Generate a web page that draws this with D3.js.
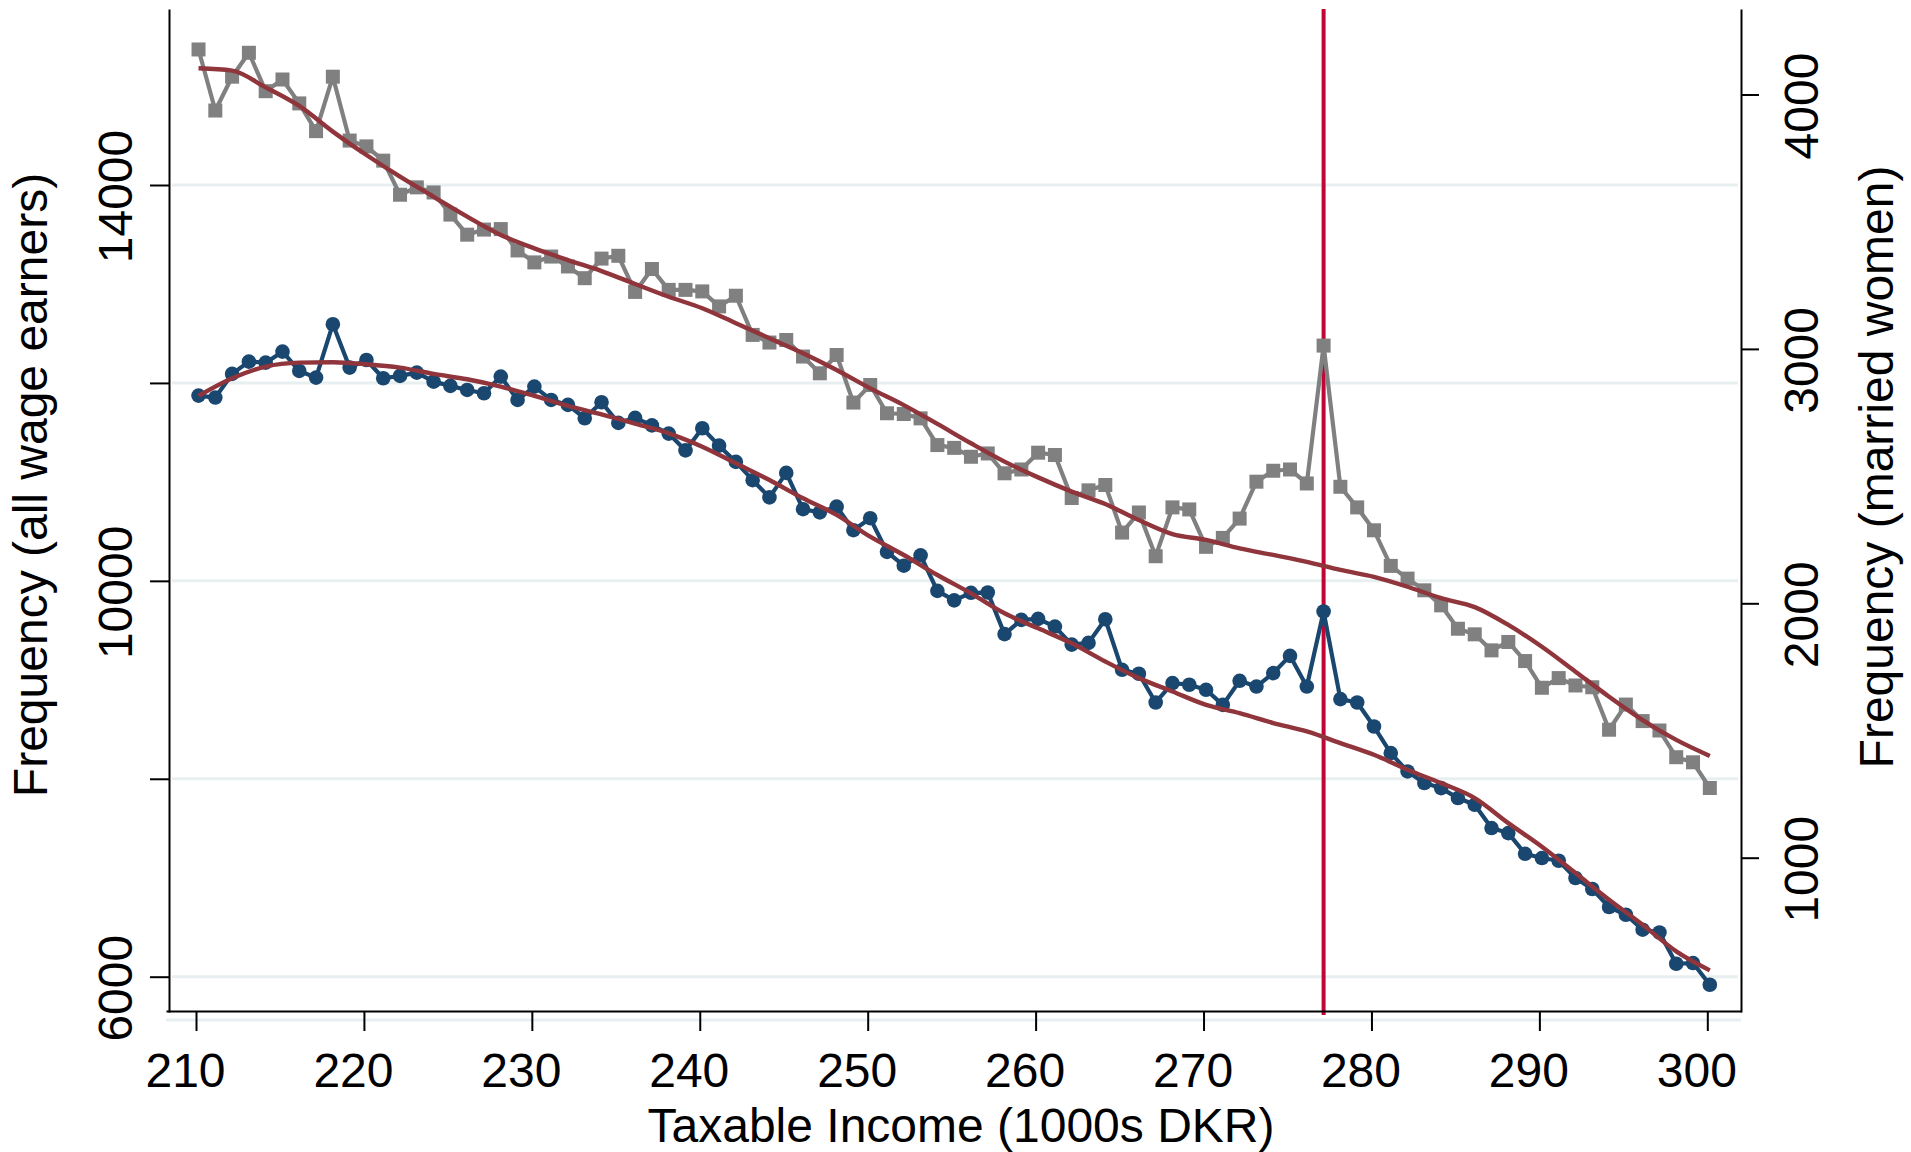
<!DOCTYPE html>
<html>
<head>
<meta charset="utf-8">
<script src="https://cdn.jsdelivr.net/npm/d3@7"></script>
<style>
  html, body { margin: 0; padding: 0; background: #ffffff; }
  svg { display: block; font-family: "Liberation Sans", Arial, Helvetica, sans-serif; }
</style>
</head>
<body>
<svg id="chart" width="1911" height="1152"></svg>
<script>
// Taxable income bins (1000s DKR), marker position of each bin
const income = [
  210.15, 211.15, 212.15, 213.15, 214.15, 215.15, 216.15, 217.15, 218.15, 219.15,
  220.15, 221.15, 222.15, 223.15, 224.15, 225.15, 226.15, 227.15, 228.15, 229.15,
  230.15, 231.15, 232.15, 233.15, 234.15, 235.15, 236.15, 237.15, 238.15, 239.15,
  240.15, 241.15, 242.15, 243.15, 244.15, 245.15, 246.15, 247.15, 248.15, 249.15,
  250.15, 251.15, 252.15, 253.15, 254.15, 255.15, 256.15, 257.15, 258.15, 259.15,
  260.15, 261.15, 262.15, 263.15, 264.15, 265.15, 266.15, 267.15, 268.15, 269.15,
  270.15, 271.15, 272.15, 273.15, 274.15, 275.15, 276.15, 277.15, 278.15, 279.15,
  280.15, 281.15, 282.15, 283.15, 284.15, 285.15, 286.15, 287.15, 288.15, 289.15,
  290.15, 291.15, 292.15, 293.15, 294.15, 295.15, 296.15, 297.15, 298.15, 299.15,
  300.15
];

// Frequency, all wage earners (left axis)
const allWageEarners = [
  11872, 11852, 12091, 12215, 12205, 12316, 12121, 12054, 12593, 12155,
  12232, 12047, 12071, 12104, 12013, 11970, 11929, 11896, 12064, 11828,
  11963, 11828, 11778, 11643, 11805, 11596, 11647, 11571, 11488, 11318,
  11542, 11366, 11202, 11017, 10843, 11091, 10724, 10692, 10750, 10512,
  10633, 10293, 10153, 10258, 9899, 9803, 9879, 9882, 9462, 9606,
  9616, 9538, 9356, 9373, 9612, 9101, 9061, 8771, 8967, 8950,
  8899, 8747, 8990, 8932, 9068, 9242, 8932, 9690, 8805, 8771,
  8528, 8260, 8074, 7957, 7906, 7805, 7737, 7502, 7451, 7242,
  7199, 7172, 6997, 6886, 6704, 6626, 6475, 6447, 6131, 6138,
  5919
];

// Frequency, married women (right axis)
const marriedWomen = [
  4177, 3937, 4070, 4164, 4013, 4059, 3965, 3856, 4070, 3819,
  3796, 3740, 3606, 3635, 3615, 3528, 3449, 3469, 3471, 3387,
  3340, 3363, 3324, 3278, 3355, 3366, 3224, 3314, 3232, 3232,
  3226, 3167, 3209, 3055, 3025, 3035, 2970, 2904, 2976, 2789,
  2858, 2747, 2744, 2727, 2622, 2611, 2576, 2589, 2511, 2526,
  2592, 2583, 2414, 2444, 2465, 2278, 2357, 2185, 2377, 2369,
  2222, 2257, 2333, 2478, 2521, 2526, 2471, 3013, 2458, 2377,
  2287, 2147, 2097, 2051, 1992, 1900, 1878, 1815, 1848, 1773,
  1668, 1706, 1677, 1670, 1503, 1602, 1537, 1500, 1395, 1375,
  1274
];

// Smooth fitted counterfactual densities, evaluated at every other bin
const fitIncome = [
  210.15, 212.15, 214.15, 216.15, 218.15, 220.15, 222.15, 224.15, 226.15, 228.15,
  230.15, 232.15, 234.15, 236.15, 238.15, 240.15, 242.15, 244.15, 246.15, 248.15,
  250.15, 252.15, 254.15, 256.15, 258.15, 260.15, 262.15, 264.15, 266.15, 268.15,
  270.15, 272.15, 274.15, 276.15, 278.15, 280.15, 282.15, 284.15, 286.15, 288.15,
  290.15, 292.15, 294.15, 296.15, 298.15, 300.15
];
const fitAllWageEarners = [
  11869, 12047, 12165, 12205, 12209, 12189, 12154, 12091, 12037, 11963,
  11869, 11768, 11682, 11588, 11491, 11356, 11188, 11019, 10834, 10666,
  10446, 10261, 10059, 9874, 9672, 9520, 9369, 9185, 9017, 8882,
  8747, 8663, 8563, 8478, 8361, 8242, 8091, 7956, 7805, 7552,
  7313, 7047, 6778, 6525, 6256, 6064
];
const fitMarriedWomen = [
  4103, 4094, 4028, 3955, 3854, 3762, 3677, 3598, 3520, 3448,
  3395, 3349, 3306, 3255, 3205, 3160, 3101, 3042, 2983, 2917,
  2845, 2779, 2705, 2629, 2557, 2495, 2439, 2390, 2327, 2272,
  2249, 2216, 2190, 2163, 2131, 2104, 2065, 2020, 1985, 1915,
  1829, 1731, 1633, 1541, 1463, 1400
];

// Top tax bracket cutoff
const kinkIncome = 277.15;

// Axis ticks and labels
const xTicks = [210, 220, 230, 240, 250, 260, 270, 280, 290, 300];
const leftTicks = [6000, 8000, 10000, 12000, 14000];
const leftTickLabels = [6000, 10000, 14000];
const rightTicks = [1000, 2000, 3000, 4000];

const xTitle = "Taxable Income (1000s DKR)";
const leftTitle = "Frequency (all wage earners)";
const rightTitle = "Frequency (married women)";

// ---- layout and scales ----
const svg = d3.select("#chart");
const frame = { left: 169, right: 1741, top: 9, bottom: 1011 };
const fontSize = 48;
const titleSize = 48;
const labelShift = 11;   // tick labels sit a little before their tick

const colors = {
  grid: "#e8eff1",
  gray: "#808080",
  navy: "#1a476f",
  fit: "#90353b",
  kink: "#c10534"
};

const x = d3.scaleLinear().domain([210, 300]).range([196, 1707.3]);
const yL = d3.scaleLinear().domain([6000, 14000]).range([976.7, 185]);
const yR = d3.scaleLinear().domain([1000, 2000]).range([857.7, 603.3]);

svg.append("rect").attr("width", 1911).attr("height", 1152).attr("fill", "#ffffff");

// gridlines from the left axis
svg.append("g").selectAll("line").data(leftTicks).join("line")
  .attr("x1", frame.left + 3).attr("x2", frame.right - 3)
  .attr("y1", d => yL(d)).attr("y2", d => yL(d))
  .attr("stroke", colors.grid).attr("stroke-width", 3);

// faint band just under the x axis
svg.append("line")
  .attr("x1", frame.left - 3).attr("x2", frame.right)
  .attr("y1", frame.bottom + 9).attr("y2", frame.bottom + 9)
  .attr("stroke", colors.grid).attr("stroke-width", 3);

// vertical line at the kink
svg.append("line")
  .attr("x1", x(kinkIncome)).attr("x2", x(kinkIncome))
  .attr("y1", frame.top).attr("y2", frame.bottom + 4)
  .attr("stroke", colors.kink).attr("stroke-width", 4);

// ---- series ----
const grayLine = d3.line().x((d, i) => x(income[i])).y(d => yR(d));
const navyLine = d3.line().x((d, i) => x(income[i])).y(d => yL(d));

svg.append("path").datum(marriedWomen)
  .attr("d", grayLine).attr("fill", "none")
  .attr("stroke", colors.gray).attr("stroke-width", 4.2).attr("stroke-linejoin", "round");
const sq = 14;
svg.append("g").selectAll("rect").data(marriedWomen).join("rect")
  .attr("x", (d, i) => x(income[i]) - sq / 2)
  .attr("y", d => yR(d) - sq / 2)
  .attr("width", sq).attr("height", sq)
  .attr("fill", colors.gray);

svg.append("path").datum(allWageEarners)
  .attr("d", navyLine).attr("fill", "none")
  .attr("stroke", colors.navy).attr("stroke-width", 4.2).attr("stroke-linejoin", "round");
svg.append("g").selectAll("circle").data(allWageEarners).join("circle")
  .attr("cx", (d, i) => x(income[i]))
  .attr("cy", d => yL(d))
  .attr("r", 7.3)
  .attr("fill", colors.navy);

// fitted curves
const fitGray = d3.line().curve(d3.curveMonotoneX).x((d, i) => x(fitIncome[i])).y(d => yR(d));
const fitNavy = d3.line().curve(d3.curveMonotoneX).x((d, i) => x(fitIncome[i])).y(d => yL(d));
svg.append("path").datum(fitMarriedWomen).attr("d", fitGray)
  .attr("fill", "none").attr("stroke", colors.fit).attr("stroke-width", 4.4);
svg.append("path").datum(fitAllWageEarners).attr("d", fitNavy)
  .attr("fill", "none").attr("stroke", colors.fit).attr("stroke-width", 4.4);

// ---- axes ----
function styleAxis(g) {
  g.selectAll("path.domain").attr("stroke", "#000").attr("stroke-width", 2);
  g.selectAll(".tick line").attr("stroke", "#000").attr("stroke-width", 2);
  g.selectAll("text").attr("fill", "#000").attr("font-size", fontSize)
    .attr("font-family", "'Liberation Sans', Arial, Helvetica, sans-serif");
}

// bottom axis, its domain running the full frame width
const xAxisScale = x.copy()
  .domain([x.invert(frame.left - 3), x.invert(frame.right)])
  .range([frame.left - 3, frame.right]);
const gx = svg.append("g").attr("transform", `translate(0,${frame.bottom})`)
  .call(d3.axisBottom(xAxisScale).tickValues(xTicks).tickSize(20).tickSizeOuter(0).tickFormat(d3.format("d")));
styleAxis(gx);
gx.selectAll(".tick text").attr("x", -labelShift).attr("y", 76).attr("dy", 0);

// left axis
const yLAxisScale = yL.copy()
  .domain([yL.invert(frame.bottom + 1), yL.invert(frame.top)])
  .range([frame.bottom + 1, frame.top]);
const gl = svg.append("g").attr("transform", `translate(${frame.left},0)`)
  .call(d3.axisLeft(yLAxisScale).tickValues(leftTicks).tickSize(19).tickSizeOuter(0)
    .tickFormat(d => leftTickLabels.includes(d) ? String(d) : ""));
styleAxis(gl);
gl.selectAll(".tick text")
  .attr("transform", "rotate(-90)")
  .attr("x", -labelShift).attr("y", -37).attr("dy", 0)
  .attr("text-anchor", "middle");

// right axis
const yRAxisScale = yR.copy()
  .domain([yR.invert(frame.bottom + 1), yR.invert(frame.top)])
  .range([frame.bottom + 1, frame.top]);
const gr = svg.append("g").attr("transform", `translate(${frame.right},0)`)
  .call(d3.axisRight(yRAxisScale).tickValues(rightTicks).tickSize(18).tickSizeOuter(0)
    .tickFormat(d3.format("d")));
styleAxis(gr);
gr.selectAll(".tick text")
  .attr("transform", "rotate(-90)")
  .attr("x", -labelShift).attr("y", 77).attr("dy", 0)
  .attr("text-anchor", "middle");

// ---- titles ----
svg.append("text")
  .attr("x", 961).attr("y", 1142)
  .attr("text-anchor", "middle").attr("font-size", titleSize).attr("fill", "#000")
  .text(xTitle);

svg.append("text")
  .attr("transform", "translate(47,485) rotate(-90)")
  .attr("text-anchor", "middle").attr("font-size", titleSize).attr("fill", "#000")
  .text(leftTitle);

svg.append("text")
  .attr("transform", "translate(1893,467) rotate(-90)")
  .attr("text-anchor", "middle").attr("font-size", titleSize).attr("fill", "#000")
  .text(rightTitle);
</script>
</body>
</html>
